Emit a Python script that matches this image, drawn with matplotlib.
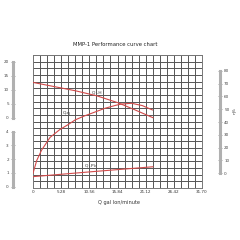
import matplotlib
matplotlib.use("Agg")
import matplotlib.pyplot as plt
import numpy as np

# ---- data ----
title = "MMP-1 Performance curve chart"
xlabel = "Q gal lon/minute"
x_ticks = [0, 5.28, 10.56, 15.84, 21.12, 26.42, 31.70]
x_tick_labels = ["0", "5.28", "10.56", "15.84", "21.12", "26.42", "31.70"]

q_h = [0, 4, 8, 12, 16, 19, 22.5]
h_vals = [12.6, 11.1, 9.6, 7.8, 5.3, 2.9, 0.0]

q_eta = [0, 0.7, 1.6, 3.2, 5.0, 6.6, 7.9, 9.5, 11.0, 13.5, 15.5, 16.6, 18.5, 20.5, 22.4]
eta_vals = [0, 10, 18, 28, 34, 38, 41.6, 44.5, 46.8, 50.7, 53.0, 54.0, 54.6, 52.8, 49.4]

q_p = [0, 11, 22.5]
p_vals = [0.73, 1.09, 1.45]

h_ticks = [0, 5, 10, 15, 20]
p_ticks = [0, 1, 2, 3, 4]
eta_ticks = [0, 10, 20, 30, 40, 50, 60, 70, 80]

W = H = 240.0
def rect(x0, y0, x1, y1):
    # pixel box (top-left origin) -> figure fraction
    return [x0 / W, 1 - y1 / H, (x1 - x0) / W, (y1 - y0) / H]

fig = plt.figure(figsize=(2.4, 2.4), dpi=100)
fig.patch.set_facecolor("white")

px0, py0, px1, py1 = 33, 55, 202, 188
ax = fig.add_axes(rect(px0, py0, px1, py1))
ax.set_xlim(0, 31.70)
ax.set_ylim(0, 20)
ax.set_xticks(np.linspace(0, 31.70, 25), minor=False)
ax.set_yticks(np.arange(0, 21, 1))
ax.grid(True, color="#555555", linewidth=0.7)
ax.tick_params(length=0, labelbottom=False, labelleft=False)
for s in ax.spines.values():
    s.set_color("#777777")
    s.set_linewidth(0.7)
# x tick labels
for xv, lab in zip(x_ticks, x_tick_labels):
    ax.text(xv, -0.25, lab, ha="center", va="top", fontsize=3, color="#333333")
ax.text(0.51, -0.11, xlabel, transform=ax.transAxes, ha="center", va="center",
        fontsize=3.6, color="#333333")

red = "#d24a4a"
# H axis (upper left scale): 0 at y=117.7, 20 at 61.7
axh = ax.twinx()
hpp = (117.7 - 61.7) / 20
axh.set_ylim(-(py1 - 117.7) / hpp, (117.7 - py0) / hpp)
axh.axis("off")
axh.plot(q_h, h_vals, color=red, linewidth=0.8)

# P axis (lower left scale): 0 at 186.7, 4 at 131.7
axp = ax.twinx()
ppp = (186.7 - 131.7) / 4
axp.set_ylim(-(py1 - 186.7) / ppp, (186.7 - py0) / ppp)
axp.axis("off")
axp.plot(q_p, p_vals, color=red, linewidth=0.8)

# eta axis (right scale): 0 at 173.3, 80 at 70.7
axe = ax.twinx()
epp = (173.3 - 70.7) / 80
axe.set_ylim(-(py1 - 173.3) / epp, (173.3 - py0) / epp)
axe.axis("off")
axe.plot(q_eta, eta_vals, color=red, linewidth=0.8)

# curve labels
axh.text(11.0, 8.3, "Q -H", fontsize=3.2, color="#333333", ha="left", va="bottom")
axe.text(5.6, 45.5, "Q-\u03b7", fontsize=3.2, color="#333333", ha="left", va="bottom")
axp.text(9.6, 1.25, "Q -P$_b$", fontsize=3.2, color="#333333", ha="left", va="bottom")

fig.text(115 / W, 1 - 45 / H, title, ha="center", va="center", fontsize=3.8, color="#222222")

# side scale bars
bar_color = "#b0b0b0"
def side_axis(x, y_top, y_bot, lim, ticks, side):
    a = fig.add_axes(rect(x - 0.5, y_top, x + 0.5, y_bot))
    a.set_ylim(*lim)
    a.set_xticks([])
    a.set_yticks(ticks)
    a.patch.set_visible(False)
    for k in ["top", "bottom", "left", "right"]:
        a.spines[k].set_visible(False)
    a.spines[side].set_visible(True)
    a.spines[side].set_color(bar_color)
    a.spines[side].set_linewidth(2.2)
    a.yaxis.set_ticks_position(side)
    a.tick_params(axis="y", direction="inout", length=3, width=0.5, color="#888888",
                  labelsize=3, labelcolor="#444444", pad=1.5)
    return a

side_axis(13.5, 61.7, 117.7, (0, 20), h_ticks, "left")
side_axis(13.5, 131.7, 186.7, (0, 4), p_ticks, "left")
side_axis(219.5, 70.7, 173.3, (0, 80), eta_ticks, "right")
fig.text(235 / W, 1 - 111 / H, "\u03b7%", rotation=90, ha="center", va="center",
         fontsize=3.2, color="#444444")

fig.savefig("out.png", dpi=100, facecolor="white")
